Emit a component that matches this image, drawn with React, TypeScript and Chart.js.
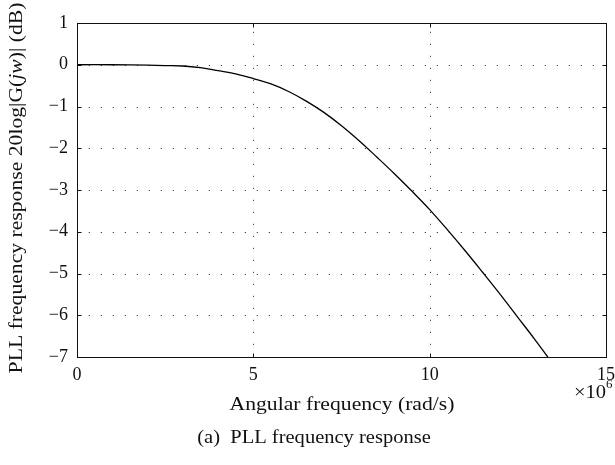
import React, { useEffect, useRef } from "react";
import { Chart, registerables } from "chart.js";

Chart.register(...registerables);

// Angular frequency in units of 1e6 rad/s
const omega = [0, 1, 2, 2.5, 3, 3.5, 4, 4.5, 5, 5.5, 6, 6.5, 7, 7.5, 8, 8.5, 9, 9.5, 10, 10.5, 11, 11.5, 12, 12.5, 13, 13.35];
// Magnitude 20log|G(jw)| in dB
const gainDb = [0, 0, -0.01, -0.02, -0.03, -0.07, -0.14, -0.22, -0.33, -0.46, -0.64, -0.87, -1.14, -1.46, -1.82, -2.21, -2.61, -3.03, -3.47, -3.95, -4.45, -4.97, -5.5, -6.05, -6.6, -7.0];

const xTicks = [0, 5, 10, 15];
const yTicks = [1, 0, -1, -2, -3, -4, -5, -6, -7];
const xGrid = [5, 10];
const yGrid = [0, -1, -2, -3, -4, -5, -6];

const FONT = '"Liberation Serif", "DejaVu Serif", serif';
// the serif face is drawn slightly widened for the labels
const WIDEN = 1.14;

function wideText(ctx: any, text: string, x: number, y: number, font: string, align: "left" | "center") {
  ctx.save();
  ctx.font = font;
  const w = ctx.measureText(text).width * WIDEN;
  ctx.translate(align === "center" ? x - w / 2 : x, y);
  ctx.scale(WIDEN, 1);
  ctx.textAlign = "left";
  ctx.fillText(text, 0, 0);
  ctx.restore();
  return w;
}

const framePlugin = {
  id: "matlabFrame",
  beforeDatasetsDraw(chart: any) {
    const { ctx, chartArea: a, scales } = chart;
    const xs = scales.x;
    const ys = scales.y;
    ctx.save();
    ctx.strokeStyle = "#444";
    ctx.lineWidth = 1;
    ctx.setLineDash([1.2, 10.8]);
    xGrid.forEach((v) => {
      const px = Math.round(xs.getPixelForValue(v)) + 0.5;
      ctx.beginPath();
      ctx.moveTo(px, a.bottom);
      ctx.lineTo(px, a.top);
      ctx.stroke();
    });
    yGrid.forEach((v) => {
      const py = Math.round(ys.getPixelForValue(v)) + 0.5;
      ctx.beginPath();
      ctx.moveTo(a.right, py);
      ctx.lineTo(a.left, py);
      ctx.stroke();
    });
    ctx.restore();
  },
  afterDatasetsDraw(chart: any) {
    const { ctx, chartArea: a, scales } = chart;
    const xs = scales.x;
    const ys = scales.y;
    const L = Math.round(a.left) + 0.5;
    const R = Math.round(a.right) + 0.5;
    const T = Math.round(a.top) + 0.5;
    const B = Math.round(a.bottom) + 0.5;
    ctx.save();
    ctx.strokeStyle = "#111";
    ctx.lineWidth = 1;
    ctx.setLineDash([]);
    ctx.strokeRect(L, T, R - L, B - T);
    const tl = 4;
    ctx.beginPath();
    xTicks.forEach((v) => {
      const px = Math.round(xs.getPixelForValue(v)) + 0.5;
      ctx.moveTo(px, B);
      ctx.lineTo(px, B - tl);
      ctx.moveTo(px, T);
      ctx.lineTo(px, T + tl);
    });
    yTicks.forEach((v) => {
      const py = Math.round(ys.getPixelForValue(v)) + 0.5;
      ctx.moveTo(L, py);
      ctx.lineTo(L + tl, py);
      ctx.moveTo(R, py);
      ctx.lineTo(R - tl, py);
    });
    ctx.stroke();

    ctx.fillStyle = "#111";
    ctx.textBaseline = "middle";

    // y-axis title with italic jw
    const parts: [string, boolean][] = [
      ["PLL frequency response 20log|G(", false],
      ["jw", true],
      [")| (dB)", false],
    ];
    const size = 19;
    const fontOf = (it: boolean) => `${it ? "italic " : ""}${size}px ${FONT}`;
    let total = 0;
    parts.forEach(([t, it]) => {
      ctx.font = fontOf(it);
      total += ctx.measureText(t).width * WIDEN;
    });
    ctx.save();
    ctx.translate(17, 188);
    ctx.rotate(-Math.PI / 2);
    let cx = -total / 2;
    parts.forEach(([t, it]) => {
      cx += wideText(ctx, t, cx, 0, fontOf(it), "left");
    });
    ctx.restore();

    // x-axis title
    wideText(ctx, "Angular frequency (rad/s)", 342, 405, `${size}px ${FONT}`, "center");

    // exponent
    const bw = wideText(ctx, "\u00d710", 574, 393, `18px ${FONT}`, "left");
    ctx.font = `13px ${FONT}`;
    ctx.textAlign = "left";
    ctx.fillText("6", 574 + bw, 385);

    // caption
    wideText(ctx, "(a)  PLL frequency response", 314, 438, `18px ${FONT}`, "center");
    ctx.restore();
  },
};

export default function App() {
  const canvasRef = useRef<HTMLCanvasElement | null>(null);

  useEffect(() => {
    document.body.style.margin = "0";
    const canvas = canvasRef.current;
    if (!canvas) return;
    const points = omega.map((w, i) => ({ x: w, y: gainDb[i] }));
    const chart = new Chart(canvas, {
      type: "line",
      data: {
        datasets: [
          {
            data: points,
            borderColor: "#000",
            borderWidth: 1.3,
            pointRadius: 0,
            tension: 0.4,
            fill: false,
          },
        ],
      },
      options: {
        animation: false,
        responsive: false,
        maintainAspectRatio: false,
        layout: { padding: { top: 23, right: 9, left: 0, bottom: 0 } },
        plugins: { legend: { display: false }, tooltip: { enabled: false } },
        scales: {
          x: {
            type: "linear",
            min: 0,
            max: 15,
            afterBuildTicks: (s: any) => {
              s.ticks = xTicks.map((v) => ({ value: v }));
            },
            afterFit: (s: any) => {
              s.height = 108;
              s.paddingLeft = 0;
              s.paddingRight = 0;
            },
            ticks: {
              color: "#111",
              font: { family: FONT, size: 18 },
              padding: 7,
              maxRotation: 0,
              autoSkip: false,
            },
            grid: { display: false, drawTicks: false },
            border: { display: false },
          },
          y: {
            type: "linear",
            min: -7,
            max: 1,
            afterBuildTicks: (s: any) => {
              s.ticks = yTicks.map((v) => ({ value: v }));
            },
            afterFit: (s: any) => {
              s.width = 77;
              s.paddingTop = 0;
              s.paddingBottom = 0;
            },
            ticks: {
              color: "#111",
              font: { family: FONT, size: 18 },
              padding: 9,
              autoSkip: false,
              callback: (v: any) => (Number(v) < 0 ? "\u2212" + Math.abs(Number(v)) : String(v)),
            },
            grid: { display: false, drawTicks: false },
            border: { display: false },
          },
        },
      },
      plugins: [framePlugin],
    });
    return () => chart.destroy();
  }, []);

  return (
    <div style={{ width: 615, height: 465, background: "#fff" }}>
      <canvas ref={canvasRef} width={615} height={465} style={{ display: "block" }} />
    </div>
  );
}
